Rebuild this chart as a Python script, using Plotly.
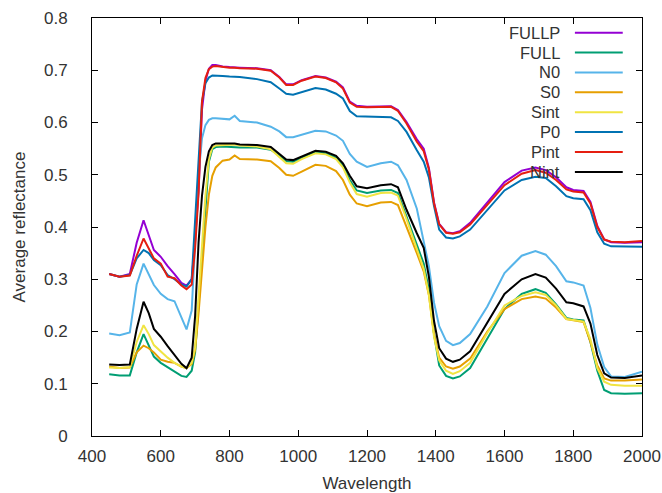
import plotly.graph_objects as go

wavelength = [450, 480, 510, 530, 550, 565, 580, 600, 620, 640, 660, 675, 690, 700, 710, 720, 730, 740,
              750, 760, 780, 800, 815, 830, 880, 920, 945, 965, 985, 1010, 1050, 1080, 1110, 1130, 1150,
              1170, 1200, 1240, 1270, 1290, 1315, 1345, 1365, 1380, 1395, 1410, 1430, 1450, 1470, 1500,
              1550, 1600, 1650, 1690, 1720, 1750, 1780, 1800, 1830, 1850, 1870, 1890, 1910, 1950, 2000]

FULLP = [0.310, 0.305, 0.310, 0.370, 0.413, 0.385, 0.356, 0.343, 0.325, 0.310, 0.293, 0.288, 0.300, 0.375,
         0.470, 0.625, 0.680, 0.703, 0.710, 0.710, 0.707, 0.706, 0.706, 0.705, 0.704, 0.700, 0.687, 0.673,
         0.673, 0.681, 0.689, 0.686, 0.678, 0.667, 0.640, 0.632, 0.630, 0.631, 0.631, 0.624, 0.601, 0.568,
         0.550, 0.513, 0.447, 0.406, 0.390, 0.388, 0.392, 0.408, 0.447, 0.486, 0.508, 0.514, 0.509, 0.495,
         0.476, 0.471, 0.469, 0.448, 0.402, 0.376, 0.371, 0.370, 0.371]
FULL = [0.118, 0.116, 0.116, 0.160, 0.195, 0.175, 0.152, 0.140, 0.132, 0.123, 0.115, 0.113, 0.125, 0.160,
        0.250, 0.350, 0.450, 0.525, 0.549, 0.553, 0.554, 0.553, 0.553, 0.552, 0.552, 0.548, 0.537, 0.526,
        0.525, 0.532, 0.543, 0.541, 0.533, 0.518, 0.490, 0.470, 0.465, 0.470, 0.471, 0.465, 0.420, 0.369,
        0.330, 0.280, 0.195, 0.135, 0.115, 0.110, 0.114, 0.130, 0.186, 0.243, 0.272, 0.281, 0.274, 0.252,
        0.226, 0.223, 0.221, 0.180, 0.125, 0.088, 0.082, 0.081, 0.082]
N0 = [0.196, 0.193, 0.198, 0.290, 0.330, 0.310, 0.289, 0.272, 0.262, 0.258, 0.225, 0.204, 0.240, 0.380,
      0.500, 0.570, 0.595, 0.605, 0.608, 0.608, 0.607, 0.606, 0.613, 0.603, 0.600, 0.592, 0.583, 0.572,
      0.572, 0.577, 0.584, 0.583, 0.575, 0.565, 0.540, 0.525, 0.515, 0.522, 0.525, 0.518, 0.490, 0.435,
      0.375, 0.325, 0.255, 0.210, 0.182, 0.174, 0.178, 0.195, 0.248, 0.312, 0.345, 0.354, 0.347, 0.325,
      0.296, 0.294, 0.288, 0.245, 0.175, 0.132, 0.114, 0.113, 0.123]
S0 = [0.133, 0.130, 0.131, 0.160, 0.173, 0.168, 0.160, 0.146, 0.142, 0.140, 0.133, 0.130, 0.138, 0.165,
      0.235, 0.320, 0.400, 0.462, 0.498, 0.514, 0.527, 0.529, 0.537, 0.530, 0.529, 0.526, 0.513, 0.500,
      0.498, 0.506, 0.519, 0.517, 0.507, 0.490, 0.462, 0.445, 0.440, 0.447, 0.448, 0.442, 0.401, 0.350,
      0.315, 0.270, 0.195, 0.150, 0.133, 0.129, 0.133, 0.148, 0.200, 0.243, 0.262, 0.267, 0.263, 0.246,
      0.224, 0.222, 0.218, 0.180, 0.135, 0.110, 0.106, 0.106, 0.108]
Sint = [0.131, 0.130, 0.132, 0.180, 0.212, 0.195, 0.174, 0.162, 0.150, 0.140, 0.133, 0.130, 0.140, 0.170,
        0.270, 0.370, 0.460, 0.530, 0.552, 0.556, 0.557, 0.557, 0.558, 0.556, 0.554, 0.549, 0.535, 0.522,
        0.521, 0.530, 0.541, 0.539, 0.530, 0.514, 0.485, 0.463, 0.458, 0.465, 0.466, 0.460, 0.415, 0.360,
        0.320, 0.270, 0.190, 0.145, 0.125, 0.119, 0.124, 0.140, 0.197, 0.250, 0.268, 0.275, 0.270, 0.250,
        0.224, 0.222, 0.219, 0.185, 0.130, 0.104, 0.098, 0.096, 0.096]
P0 = [0.310, 0.305, 0.308, 0.340, 0.356, 0.350, 0.337, 0.327, 0.308, 0.300, 0.290, 0.286, 0.300, 0.420,
      0.540, 0.640, 0.675, 0.686, 0.690, 0.690, 0.689, 0.688, 0.688, 0.687, 0.683, 0.677, 0.665, 0.655,
      0.653, 0.658, 0.666, 0.663, 0.655, 0.646, 0.622, 0.612, 0.611, 0.611, 0.610, 0.603, 0.582, 0.547,
      0.525, 0.495, 0.440, 0.395, 0.380, 0.378, 0.382, 0.395, 0.433, 0.470, 0.490, 0.496, 0.494, 0.478,
      0.459, 0.455, 0.453, 0.432, 0.390, 0.368, 0.363, 0.362, 0.362]
Pint = [0.310, 0.305, 0.307, 0.345, 0.378, 0.360, 0.340, 0.330, 0.305, 0.302, 0.288, 0.281, 0.290, 0.360,
        0.465, 0.640, 0.685, 0.702, 0.707, 0.708, 0.706, 0.705, 0.705, 0.704, 0.703, 0.699, 0.686, 0.672,
        0.672, 0.680, 0.688, 0.685, 0.677, 0.665, 0.638, 0.630, 0.629, 0.630, 0.630, 0.622, 0.598, 0.563,
        0.545, 0.510, 0.445, 0.405, 0.389, 0.387, 0.390, 0.405, 0.442, 0.480, 0.502, 0.509, 0.504, 0.490,
        0.472, 0.468, 0.466, 0.445, 0.400, 0.376, 0.372, 0.371, 0.373]
Nint = [0.137, 0.136, 0.137, 0.205, 0.257, 0.235, 0.205, 0.190, 0.172, 0.155, 0.138, 0.130, 0.150, 0.230,
        0.370, 0.460, 0.515, 0.545, 0.557, 0.560, 0.560, 0.559, 0.560, 0.558, 0.557, 0.553, 0.540, 0.529,
        0.528, 0.535, 0.546, 0.544, 0.536, 0.522, 0.498, 0.478, 0.474, 0.480, 0.482, 0.476, 0.433, 0.388,
        0.360, 0.305, 0.220, 0.168, 0.148, 0.142, 0.146, 0.162, 0.217, 0.272, 0.300, 0.310, 0.303, 0.282,
        0.256, 0.254, 0.248, 0.215, 0.155, 0.120, 0.112, 0.111, 0.116]

series_names = ["FULLP", "FULL", "N0", "S0", "Sint", "P0", "Pint", "Nint"]
series_values = [FULLP, FULL, N0, S0, Sint, P0, Pint, Nint]
series_colors = ["#9400D3", "#009E73", "#56B4E9", "#E69F00", "#F0E442", "#0072B2", "#E51E10", "#000000"]

x_ticks = [400, 600, 800, 1000, 1200, 1400, 1600, 1800, 2000]
y_ticks = [0, 0.1, 0.2, 0.3, 0.4, 0.5, 0.6, 0.7, 0.8]
y_tick_labels = ["0", "0.1", "0.2", "0.3", "0.4", "0.5", "0.6", "0.7", "0.8"]

FONT = "Liberation Sans, Arial, sans-serif"
TXT = "#333333"
FS = 17

fig = go.Figure()
for name, vals, col in zip(series_names, series_values, series_colors):
    fig.add_trace(go.Scatter(x=wavelength, y=vals, mode="lines", name=name,
                             line=dict(color=col, width=2), showlegend=False))

# gnuplot-style key: text right-aligned, sample line to the right
key_text_x = 0.854
key_line_x0, key_line_x1 = 0.878, 0.965
key_top, key_step = 0.965, 0.0476
for i, (name, col) in enumerate(zip(series_names, series_colors)):
    yy = key_top - i * key_step
    fig.add_annotation(x=key_text_x, y=yy, xref="paper", yref="paper", text=name,
                       showarrow=False, xanchor="right", yanchor="middle",
                       font=dict(family=FONT, size=16.5, color=TXT))
    fig.add_shape(type="line", xref="paper", yref="paper", x0=key_line_x0, x1=key_line_x1,
                  y0=yy, y1=yy, line=dict(color=col, width=2))

axis_common = dict(showgrid=False, zeroline=False, showline=True, linecolor="black", linewidth=1,
                   mirror="ticks", ticks="inside", ticklen=6, tickcolor="black", tickwidth=1,
                   tickfont=dict(family=FONT, size=FS, color=TXT))

fig.update_xaxes(range=[400, 2000], tickvals=x_ticks, ticktext=[str(v) for v in x_ticks],
                 title=dict(text="Wavelength", font=dict(family=FONT, size=FS, color=TXT), standoff=16),
                 ticklabelstandoff=5, **axis_common)
fig.update_yaxes(range=[0, 0.8], tickvals=y_ticks, ticktext=y_tick_labels,
                 title=dict(text="Average reflectance", font=dict(family=FONT, size=FS, color=TXT), standoff=14),
                 ticklabelstandoff=20, **axis_common)

fig.update_layout(width=662, height=493, margin=dict(l=92, r=20, t=18, b=57, autoexpand=False),
                  paper_bgcolor="white", plot_bgcolor="white")

fig.write_html("out.html", config={"displayModeBar": False},
               post_script="document.body.style.margin='0';document.body.style.overflow='hidden';")
